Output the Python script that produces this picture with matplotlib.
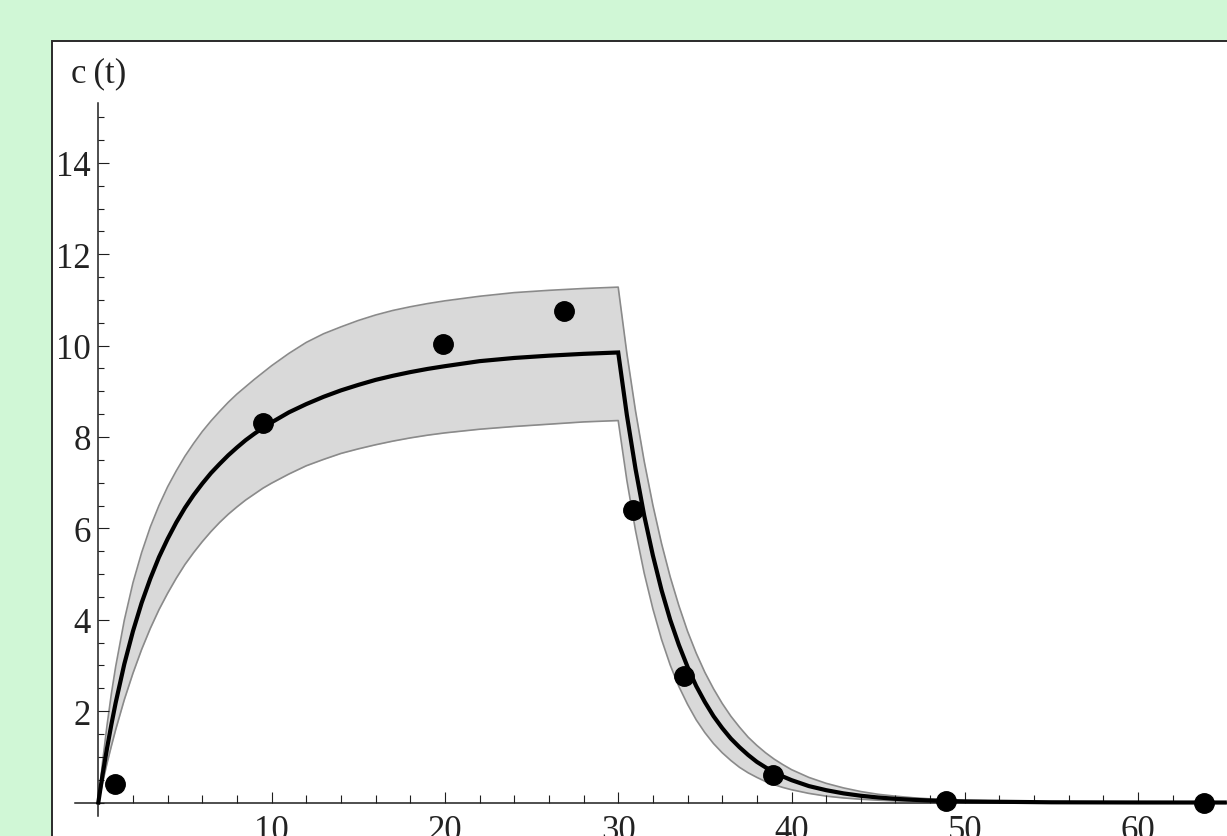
import matplotlib
matplotlib.use("Agg")
import matplotlib.pyplot as plt
from matplotlib.patches import Rectangle
from matplotlib.ticker import MultipleLocator

# time grid shared by the model curve and its band
t_model = [0, 0.25, 0.5, 0.75, 1, 1.5, 2, 2.5, 3, 3.5, 4, 4.5, 5, 5.5, 6, 6.5,
           7, 7.5, 8, 8.5, 9, 9.5, 10, 11, 12, 13, 14, 15, 16, 17, 18, 19,
           20, 22, 24, 26, 28, 30,
           30.5, 31, 31.5, 32, 32.5, 33, 33.5, 34, 34.5, 35, 35.5, 36, 36.5,
           37, 37.5, 38, 38.5, 39, 39.5, 40, 41, 42, 43, 44, 45, 46, 47, 48,
           49, 50, 55, 60, 65]

c_mean = [0, 0.62, 1.18, 1.70, 2.18, 3.03, 3.75, 4.37, 4.90, 5.37, 5.77, 6.13,
          6.45, 6.73, 6.98, 7.21, 7.41, 7.60, 7.77, 7.93, 8.07, 8.20, 8.32,
          8.54, 8.72, 8.88, 9.02, 9.14, 9.25, 9.34, 9.42, 9.49, 9.55, 9.66,
          9.73, 9.78, 9.82, 9.85,
          8.48, 7.30, 6.28, 5.41, 4.65, 4.00, 3.45, 2.97, 2.55, 2.20, 1.89,
          1.63, 1.40, 1.21, 1.04, 0.89, 0.77, 0.66, 0.57, 0.49, 0.36, 0.27,
          0.20, 0.148, 0.11, 0.081, 0.060, 0.044, 0.033, 0.024, 0.005, 0.001, 0]

c_upper = [0, 0.90, 1.68, 2.37, 2.97, 3.99, 4.81, 5.47, 6.03, 6.50, 6.91, 7.26,
           7.58, 7.86, 8.12, 8.35, 8.56, 8.76, 8.94, 9.10, 9.26, 9.41, 9.56,
           9.83, 10.07, 10.26, 10.41, 10.55, 10.67, 10.77, 10.85, 10.92, 10.98,
           11.08, 11.16, 11.21, 11.25, 11.28,
           9.83, 8.57, 7.47, 6.51, 5.67, 4.94, 4.31, 3.75, 3.27, 2.85, 2.49,
           2.17, 1.89, 1.65, 1.43, 1.25, 1.09, 0.95, 0.83, 0.72, 0.55, 0.42,
           0.32, 0.24, 0.18, 0.139, 0.105, 0.080, 0.061, 0.046, 0.012, 0.003, 0]

c_lower = [0, 0.44, 0.85, 1.23, 1.59, 2.25, 2.83, 3.35, 3.81, 4.22, 4.58, 4.91,
           5.21, 5.47, 5.71, 5.93, 6.13, 6.31, 6.47, 6.62, 6.75, 6.88, 6.99,
           7.19, 7.37, 7.51, 7.64, 7.74, 7.83, 7.91, 7.98, 8.04, 8.09, 8.17,
           8.23, 8.28, 8.33, 8.36,
           7.05, 5.95, 5.02, 4.24, 3.57, 3.01, 2.54, 2.15, 1.81, 1.53, 1.29,
           1.09, 0.92, 0.77, 0.65, 0.55, 0.46, 0.39, 0.33, 0.28, 0.20, 0.14,
           0.10, 0.072, 0.051, 0.036, 0.026, 0.018, 0.013, 0.009, 0.002, 0, 0]

# observed concentrations
t_obs = [0.95, 9.5, 19.9, 26.9, 30.85, 33.8, 38.95, 48.9, 63.8]
c_obs = [0.41, 8.3, 10.03, 10.75, 6.4, 2.78, 0.60, 0.03, 0.0]

x_ticks = [10, 20, 30, 40, 50, 60]
y_ticks = [2, 4, 6, 8, 10, 12, 14]

plt.rcParams['font.family'] = ['Liberation Serif', 'DejaVu Serif']

W, H = 1227, 837
fig = plt.figure(figsize=(W / 100, H / 100), dpi=100)
fig.patch.set_facecolor('#d0f7d6')

# white panel with dark frame (only left and top edges visible)
panel = Rectangle((52 / W, -0.1), 1.2, 0.1 + (H - 42) / H,
                  transform=fig.transFigure, facecolor='white',
                  edgecolor='#2a2a2a', linewidth=1.4, zorder=-10)
fig.patches.append(panel)

ax = fig.add_axes([75 / W, 20 / H, (W - 75) / W, (817 - 104) / H])
ax.set_zorder(1)
ax.set_facecolor('none')
ax.set_xlim(-1.345, 65.13)
ax.set_ylim(-0.295, 15.31)

# band, its edges, the model curve and the data
ax.fill_between(t_model, c_lower, c_upper, color='#d9d9d9', linewidth=0, zorder=1)
ax.plot(t_model, c_upper, color='#8a8a8a', linewidth=1.2, zorder=1.5)
ax.plot(t_model, c_lower, color='#8a8a8a', linewidth=1.2, zorder=1.5)
ax.plot(t_model, c_mean, color='black', linewidth=3.0, zorder=3,
        solid_joinstyle='miter')
ax.plot(t_obs, c_obs, 'o', color='black', markersize=14, zorder=4,
        clip_on=False)

# axes through the origin, Mathematica style
for side in ['top', 'right']:
    ax.spines[side].set_visible(False)
ax.spines['left'].set_position(('data', 0))
ax.spines['bottom'].set_position(('data', 0))
for side in ['left', 'bottom']:
    ax.spines[side].set_linewidth(1.1)
    ax.spines[side].set_color('#1e1e1e')

ax.set_xticks(x_ticks)
ax.set_yticks(y_ticks)
ax.xaxis.set_minor_locator(MultipleLocator(2))
ax.yaxis.set_minor_locator(MultipleLocator(0.5))
ax.tick_params(which='both', direction='in', colors='#1e1e1e',
               labelsize=25, width=0.8)
ax.tick_params(axis='x', which='major', length=8.2, pad=8.5)
ax.tick_params(axis='x', which='minor', length=5.8)
ax.tick_params(axis='y', which='major', length=8.2, pad=5.5)
ax.tick_params(axis='y', which='minor', length=4.1)
for lab in ax.get_xticklabels() + ax.get_yticklabels():
    lab.set_color('#222222')

fig.text(98.3 / W, 1 - 74 / H, 'c\u2009(t)', ha='center', va='center',
         fontsize=25, color='#222222')

fig.savefig('out.png', dpi=100, facecolor=fig.get_facecolor())
